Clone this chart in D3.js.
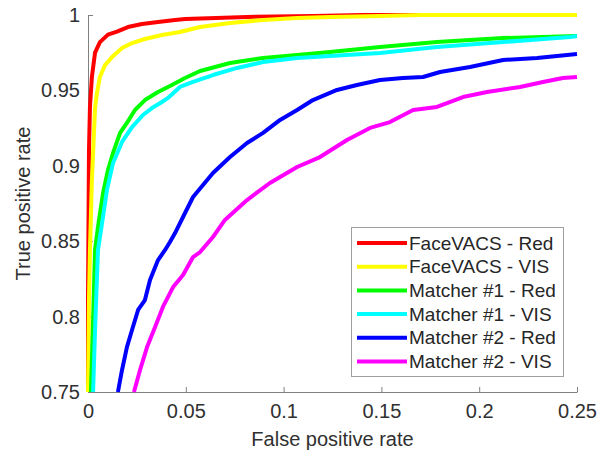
<!DOCTYPE html>
<html lang="en">
<head>
    <meta charset="UTF-8">
    <title>ROC curves</title>
    <script src="https://cdn.jsdelivr.net/npm/d3@7"></script>
    <style>
        body { margin: 0; background: #fff; }
        text { font-family: "Liberation Sans", Arial, sans-serif; }
    </style>
</head>
<body>
<script>

    // series names, in plotting order
    var names = ["FaceVACS - Red", "FaceVACS - VIS", "Matcher #1 - Red",
                 "Matcher #1 - VIS", "Matcher #2 - Red", "Matcher #2 - VIS"];
    var colors = ["#ff0000", "#ffff00", "#00ff00", "#00ffff", "#0000ff", "#ff00ff"];

    var xTicks = [0, 0.05, 0.1, 0.15, 0.2, 0.25];
    var yTicks = [0.75, 0.8, 0.85, 0.9, 0.95, 1];

    // false positive rate / true positive rate
    var faceRedFpr = [0, 0, 0.0005, 0.001, 0.002, 0.0036, 0.0061, 0.0102, 0.0148, 0.0204, 0.0276, 0.0358, 0.0445, 0.0496, 0.0813, 0.115, 0.1401, 0.25];
    var faceRedTpr = [0.75, 0.811, 0.91, 0.939, 0.959, 0.975, 0.982, 0.987, 0.989, 0.992, 0.994, 0.9954, 0.9967, 0.9973, 0.9987, 0.9993, 1, 1];

    var faceVisFpr = [0, 0.0005, 0.001, 0.002, 0.0031, 0.0036, 0.0046, 0.0061, 0.0087, 0.0123, 0.0174, 0.0225, 0.0291, 0.0378, 0.047, 0.0573, 0.0726, 0.0895, 0.1069, 0.1237, 0.1493, 0.17, 0.25];
    var faceVisTpr = [0.75, 0.811, 0.8442, 0.8906, 0.9237, 0.9383, 0.9483, 0.9589, 0.9668, 0.9721, 0.9781, 0.9814, 0.9841, 0.9867, 0.9887, 0.992, 0.9947, 0.9967, 0.998, 0.9987, 0.9993, 1, 1];

    var m1RedFpr = [0.0015, 0.0026, 0.0036, 0.0051, 0.0077, 0.0102, 0.0128, 0.0164, 0.0199, 0.024, 0.0291, 0.0358, 0.0429, 0.0496, 0.0573, 0.0726, 0.0895, 0.1069, 0.1237, 0.1493, 0.1784, 0.2122, 0.25];
    var m1RedTpr = [0.75, 0.798, 0.8442, 0.8594, 0.882, 0.8972, 0.9085, 0.9218, 0.9284, 0.937, 0.9436, 0.9489, 0.9536, 0.9582, 0.9629, 0.9682, 0.9715, 0.9735, 0.9755, 0.9788, 0.9821, 0.9847, 0.9861];

    var m1VisFpr = [0.0026, 0.0036, 0.0051, 0.0072, 0.0097, 0.0128, 0.0174, 0.0225, 0.0281, 0.0327, 0.0378, 0.0409, 0.047, 0.0537, 0.0639, 0.0762, 0.0895, 0.1069, 0.1237, 0.1493, 0.1784, 0.2122, 0.2464, 0.25];
    var m1VisTpr = [0.75, 0.7911, 0.8442, 0.8621, 0.884, 0.9019, 0.9158, 0.9257, 0.9337, 0.9383, 0.9423, 0.945, 0.9523, 0.9556, 0.9602, 0.9649, 0.9688, 0.9715, 0.9728, 0.9748, 0.9788, 0.9821, 0.9854, 0.9861];

    var m2RedFpr = [0.0153, 0.0174, 0.0199, 0.0225, 0.0256, 0.0291, 0.0317, 0.0358, 0.0394, 0.0419, 0.0445, 0.0496, 0.0537, 0.0639, 0.0726, 0.0813, 0.0895, 0.0982, 0.1069, 0.115, 0.1273, 0.1375, 0.1493, 0.161, 0.1713, 0.18, 0.1953, 0.2122, 0.2296, 0.25];
    var m2RedTpr = [0.75, 0.7646, 0.7798, 0.7911, 0.8044, 0.811, 0.8243, 0.8375, 0.8442, 0.8495, 0.8554, 0.8687, 0.8793, 0.8952, 0.9058, 0.9151, 0.9218, 0.9304, 0.937, 0.9436, 0.9503, 0.9536, 0.9569, 0.9582, 0.9589, 0.9622, 0.9655, 0.9702, 0.9715, 0.9741];

    var m2VisFpr = [0.0235, 0.0266, 0.0302, 0.0343, 0.0383, 0.0435, 0.0486, 0.0537, 0.0573, 0.0639, 0.07, 0.0813, 0.093, 0.1069, 0.1186, 0.1324, 0.1442, 0.1544, 0.1662, 0.1784, 0.1917, 0.204, 0.2209, 0.2326, 0.2428, 0.25];
    var m2VisTpr = [0.75, 0.7646, 0.7798, 0.7931, 0.8064, 0.8196, 0.8276, 0.8395, 0.8428, 0.8528, 0.8641, 0.8773, 0.8886, 0.8992, 0.9058, 0.9171, 0.9251, 0.929, 0.937, 0.939, 0.9456, 0.9489, 0.9523, 0.9556, 0.9582, 0.9589];

    var fprs = [faceRedFpr, faceVisFpr, m1RedFpr, m1VisFpr, m2RedFpr, m2VisFpr];
    var tprs = [faceRedTpr, faceVisTpr, m1RedTpr, m1VisTpr, m2RedTpr, m2VisTpr];

    var series = names.map(function(n, i) {
        return {
            name: n,
            color: colors[i],
            points: fprs[i].map(function(f, j) { return [f, tprs[i][j]]; })
        };
    });

    var W = 606, H = 454;
    // plot box (note: "top" is taken by window.top)
    var pL = 88, pR = 577, pT = 15, pB = 392;

    var x = d3.scaleLinear().domain([0, 0.25]).range([pL, pR]);
    var y = d3.scaleLinear().domain([0.75, 1]).range([pB, pT]);

    var svg = d3.select("body")
            .append("svg")
            .attr("width", W)
            .attr("height", H);

    var fmt = d3.format("~g");

    var gx = svg.append("g")
            .attr("transform", "translate(0," + pB + ")")
            .call(d3.axisBottom(x).tickValues(xTicks).tickFormat(fmt)
                    .tickSizeInner(-5).tickSizeOuter(0).tickPadding(12));

    var gy = svg.append("g")
            .attr("transform", "translate(" + pL + ",0)")
            .call(d3.axisLeft(y).tickValues(yTicks).tickFormat(fmt)
                    .tickSizeInner(-5).tickSizeOuter(0).tickPadding(8));

    [gx, gy].forEach(function(g) {
        g.select(".domain").attr("stroke", "#808080");
        g.selectAll(".tick line").attr("stroke", "#808080");
        g.selectAll(".tick text")
                .attr("fill", "#303030")
                .style("font-size", "20px")
                .style("font-family", "'Liberation Sans', Arial, sans-serif");
    });

    svg.append("text")
            .attr("x", (pL + pR) / 2)
            .attr("y", 446)
            .attr("text-anchor", "middle")
            .attr("fill", "#303030")
            .style("font-size", "20px")
            .text("False positive rate");

    svg.append("text")
            .attr("transform", "translate(30," + (pT + pB) / 2 + ") rotate(-90)")
            .attr("text-anchor", "middle")
            .attr("fill", "#303030")
            .style("font-size", "20px")
            .text("True positive rate");

    var line = d3.line()
            .x(function(d) { return x(d[0]); })
            .y(function(d) { return y(d[1]); });

    svg.append("g")
            .selectAll("path")
            .data(series)
            .enter()
            .append("path")
            .attr("d", function(d) { return line(d.points); })
            .attr("fill", "none")
            .attr("stroke", function(d) { return d.color; })
            .attr("stroke-width", 4)
            .attr("stroke-linejoin", "round");

    // legend
    var legend = svg.append("g").attr("transform", "translate(351,227)");

    legend.append("rect")
            .attr("x", 0.5).attr("y", 0.5)
            .attr("width", 212).attr("height", 149)
            .attr("fill", "#fff")
            .attr("stroke", "#a0a0a0");

    var rows = legend.selectAll(".row")
            .data(series)
            .enter()
            .append("g").attr("class", "row")
            .attr("transform", function(d, i) { return "translate(0," + (16 + i * 23.7) + ")"; });

    rows.append("line")
            .attr("x1", 6).attr("x2", 56)
            .attr("stroke", function(d) { return d.color; })
            .attr("stroke-width", 4);

    rows.append("text")
            .attr("x", 58)
            .attr("dy", "0.35em")
            .attr("fill", "#262626")
            .style("font-size", "19px")
            .text(function(d) { return d.name; });

</script>
</body>
</html>
